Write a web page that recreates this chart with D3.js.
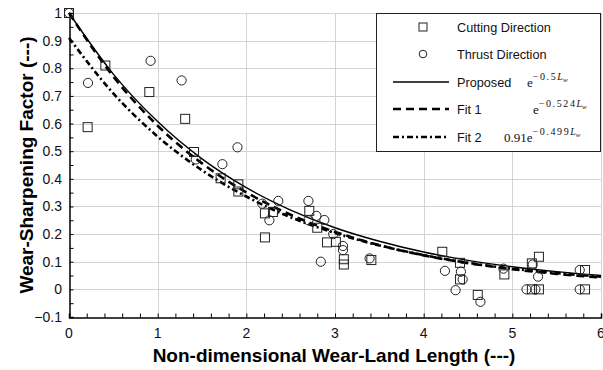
<!DOCTYPE html>
<html>
<head>
<meta charset="utf-8">
<script src="https://cdn.jsdelivr.net/npm/d3@7"></script>
<style>
  body { margin: 0; background: #fff; }
  svg { display: block; font-family: Arial, "Liberation Sans", sans-serif; }
</style>
</head>
<body>
<div id="chart"></div>
<script>
const width = 603;
const height = 370;

// measured points [Lw, factor]
const cuttingPoints = [
  [0, 1], [0.21, 0.587], [0.41, 0.81], [0.906, 0.714], [1.31, 0.617], [1.41, 0.497],
  [1.71, 0.402], [1.91, 0.38], [1.91, 0.354], [2.21, 0.275], [2.30, 0.28], [2.21, 0.188],
  [2.71, 0.284], [2.80, 0.223], [2.91, 0.17], [3.01, 0.172], [3.10, 0.109], [3.10, 0.09],
  [3.41, 0.106], [4.21, 0.136], [4.41, 0.096], [4.41, 0.036], [4.61, -0.02], [4.91, 0.054],
  [5.22, 0.094], [5.30, 0.118], [5.22, 0], [5.30, 0], [5.82, 0.07], [5.82, 0]
];
const thrustPoints = [
  [0, 1], [0.214, 0.747], [0.92, 0.827], [1.27, 0.756], [1.43, 0.47], [1.73, 0.453],
  [1.90, 0.514], [2.18, 0.31], [2.36, 0.32], [2.26, 0.25], [2.70, 0.32], [2.70, 0.25],
  [2.79, 0.266], [2.88, 0.251], [2.84, 0.1], [2.98, 0.2], [3.09, 0.157], [3.09, 0.142],
  [3.39, 0.112], [4.24, 0.067], [4.42, 0.064], [4.44, 0.036], [4.36, -0.003], [4.64, -0.045],
  [4.90, 0.075], [5.23, 0.09], [5.29, 0.046], [5.16, 0], [5.26, 0], [5.76, 0.07], [5.76, 0]
];

// curve readings at Lw = 0, 0.5, ..., 6
const curveX = [0, 0.5, 1, 1.5, 2, 2.5, 3, 3.5, 4, 4.5, 5, 5.5, 6];
const proposedY = [1, 0.779, 0.607, 0.472, 0.368, 0.287, 0.223, 0.174, 0.135, 0.105, 0.082, 0.064, 0.050];
const fit1Y = [1, 0.770, 0.592, 0.456, 0.351, 0.270, 0.208, 0.160, 0.123, 0.095, 0.073, 0.056, 0.043];
const fit2Y = [0.91, 0.709, 0.553, 0.431, 0.336, 0.261, 0.204, 0.159, 0.124, 0.096, 0.075, 0.059, 0.046];

const xTicks = [0, 1, 2, 3, 4, 5, 6];
const yTicks = [-0.1, 0, 0.1, 0.2, 0.3, 0.4, 0.5, 0.6, 0.7, 0.8, 0.9, 1];

const margin = { top: 13, right: 2, bottom: 53, left: 69 };
const innerW = width - margin.left - margin.right;
const innerH = height - margin.top - margin.bottom;

const svg = d3.select("#chart")
  .append("svg")
  .attr("width", width)
  .attr("height", height);

const x = d3.scaleLinear().domain([0, 6]).range([margin.left, margin.left + innerW]);
const y = d3.scaleLinear().domain([-0.1, 1]).range([margin.top + innerH, margin.top]);

// grid
const grid = svg.append("g").attr("stroke", "#d3d3d3").attr("stroke-width", 1);
grid.selectAll(".gx")
  .data(xTicks.slice(1))
  .join("line")
  .attr("x1", d => Math.round(x(d)) + 0.5).attr("x2", d => Math.round(x(d)) + 0.5)
  .attr("y1", y(1)).attr("y2", y(-0.1));
grid.selectAll(".gy")
  .data(yTicks.slice(1))
  .join("line")
  .attr("x1", x(0)).attr("x2", x(6))
  .attr("y1", d => Math.round(y(d)) + 0.5).attr("y2", d => Math.round(y(d)) + 0.5);

// axes with inward ticks
const xAxis = svg.append("g")
  .attr("transform", `translate(0,${Math.round(y(-0.1)) + 0.5})`)
  .call(d3.axisBottom(x).tickValues(d3.range(0, 6.01, 0.2)).tickSize(-4).tickFormat(""));
xAxis.select(".domain").attr("stroke", "#000").attr("stroke-width", 1.5);
xAxis.selectAll(".tick line").attr("stroke", "#000");

const yAxis = svg.append("g")
  .attr("transform", `translate(${Math.round(x(0)) + 0.5},0)`)
  .call(d3.axisLeft(y).tickValues(d3.range(-0.1, 1.001, 0.05)).tickSize(-4).tickFormat(""));
yAxis.select(".domain").attr("stroke", "#000").attr("stroke-width", 1.5);
yAxis.selectAll(".tick line").attr("stroke", "#000");

// tick labels
svg.append("g").selectAll("text")
  .data(xTicks)
  .join("text")
  .attr("x", d => x(d))
  .attr("y", y(-0.1) + 21)
  .attr("text-anchor", "middle")
  .attr("font-size", 14)
  .attr("fill", "#111")
  .text(d => d);

svg.append("g").selectAll("text")
  .data(yTicks)
  .join("text")
  .attr("x", x(0) - 7)
  .attr("y", d => y(d) + 5)
  .attr("text-anchor", "end")
  .attr("font-size", 14)
  .attr("fill", "#111")
  .text(d => d3.format("")(+d.toFixed(1)));

// axis titles
svg.append("text")
  .attr("x", 334)
  .attr("y", 362)
  .attr("text-anchor", "middle")
  .attr("font-size", 19)
  .attr("font-weight", "bold")
  .text("Non-dimensional Wear-Land Length (---)");

svg.append("text")
  .attr("transform", `translate(33,${(y(1) + y(-0.1)) / 2}) rotate(-90)`)
  .attr("text-anchor", "middle")
  .attr("font-size", 19)
  .attr("font-weight", "bold")
  .text("Wear-Sharpening Factor (---)");

// curves
const line = d3.line()
  .x(d => x(d[0]))
  .y(d => y(d[1]))
  .curve(d3.curveMonotoneX);

const curves = [
  { values: proposedY, width: 1.4, dash: null },
  { values: fit1Y, width: 2.6, dash: "8,5" },
  { values: fit2Y, width: 2.6, dash: "6,3,2,3" }
];

svg.append("g").selectAll("path")
  .data(curves)
  .join("path")
  .attr("fill", "none")
  .attr("stroke", "#000")
  .attr("stroke-width", d => d.width)
  .attr("stroke-dasharray", d => d.dash)
  .attr("d", d => line(curveX.map((v, i) => [v, d.values[i]])));

// markers
svg.append("g").selectAll("rect")
  .data(cuttingPoints)
  .join("rect")
  .attr("x", d => x(d[0]) - 4.5)
  .attr("y", d => y(d[1]) - 4.5)
  .attr("width", 9)
  .attr("height", 9)
  .attr("fill", "none")
  .attr("stroke", "#222")
  .attr("stroke-width", 1);

svg.append("g").selectAll("circle")
  .data(thrustPoints)
  .join("circle")
  .attr("cx", d => x(d[0]))
  .attr("cy", d => y(d[1]))
  .attr("r", 4.6)
  .attr("fill", "none")
  .attr("stroke", "#222")
  .attr("stroke-width", 1);

// legend
const lg = svg.append("g");
lg.append("rect")
  .attr("x", 376.5).attr("y", 13.5)
  .attr("width", 224).attr("height", 138)
  .attr("fill", "#fff")
  .attr("stroke", "#222")
  .attr("stroke-width", 1);

const rowY = [27, 54, 82, 109, 137];
const labels = ["Cutting Direction", "Thrust Direction", "Proposed", "Fit 1", "Fit 2"];

lg.append("rect")
  .attr("x", 419).attr("y", rowY[0] - 4).attr("width", 8).attr("height", 8)
  .attr("fill", "none").attr("stroke", "#222");
lg.append("circle")
  .attr("cx", 423).attr("cy", rowY[1]).attr("r", 3.8)
  .attr("fill", "none").attr("stroke", "#222");

curves.forEach((c, i) => {
  lg.append("line")
    .attr("x1", 393).attr("x2", 449)
    .attr("y1", rowY[i + 2]).attr("y2", rowY[i + 2])
    .attr("stroke", "#000")
    .attr("stroke-width", c.width)
    .attr("stroke-dasharray", c.dash);
});

lg.selectAll(".lbl")
  .data(labels)
  .join("text")
  .attr("x", 457)
  .attr("y", (d, i) => rowY[i] + 5)
  .attr("font-size", 12.7)
  .attr("fill", "#111")
  .text(d => d);

// formula texts
const formulas = [
  { row: 2, x: 527, pre: "e", exp: "\u22120.5" },
  { row: 3, x: 533, pre: "e", exp: "\u22120.524" },
  { row: 4, x: 504, pre: "0.91e", exp: "\u22120.499" }
];
formulas.forEach(f => {
  const t = lg.append("text")
    .attr("x", f.x)
    .attr("y", rowY[f.row] + 5)
    .attr("font-family", "'Liberation Serif', 'DejaVu Serif', serif")
    .attr("font-size", 13)
    .attr("fill", "#111");
  t.append("tspan").text(f.pre);
  t.append("tspan").attr("dy", -7).attr("font-size", 10).attr("letter-spacing", 1.6).text(f.exp);
  t.append("tspan").attr("font-size", 10).attr("font-style", "italic").text("L");
  t.append("tspan").attr("dy", 2).attr("font-size", 7).attr("font-style", "italic").text("w");
});
</script>
</body>
</html>
